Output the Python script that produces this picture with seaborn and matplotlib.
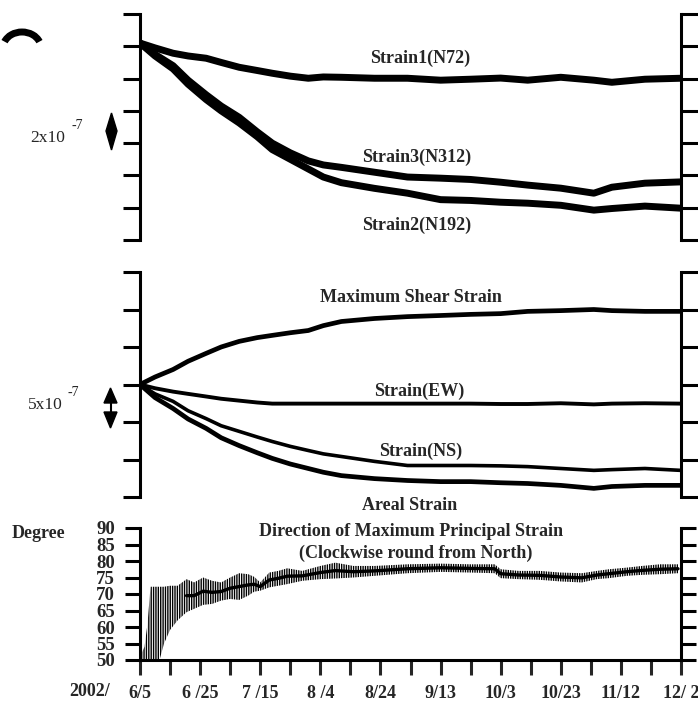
import numpy as np
import pandas as pd
import matplotlib
matplotlib.use('Agg')
import matplotlib.pyplot as plt
import seaborn as sns
from matplotlib.patches import Polygon, Arc

# days counted from 2002/6/5
days = [0, 5, 11, 16, 22, 27, 33, 39, 44, 50, 56, 61, 67, 78, 89, 100, 110, 120, 129, 140, 151, 157, 168, 180]

# top panel (units of 1e-7, one tick = 2e-7)
strain1 = [0.2, -0.1, -0.43, -0.6, -0.74, -1.0, -1.3, -1.5, -1.67, -1.85, -1.98, -1.9, -1.92, -1.98,
           -1.98, -2.1, -2.04, -1.97, -2.1, -1.92, -2.1, -2.23, -2.04, -1.98]
strain3 = [0.2, -0.5, -1.2, -2.1, -3.0, -3.7, -4.4, -5.3, -6.0, -6.6, -7.1, -7.35, -7.5, -7.8,
           -8.1, -8.17, -8.25, -8.42, -8.6, -8.79, -9.1, -8.73, -8.48, -8.4]
strain2 = [0.2, -0.6, -1.4, -2.35, -3.3, -4.0, -4.75, -5.6, -6.4, -7.0, -7.6, -8.1, -8.45, -8.8,
           -9.1, -9.5, -9.55, -9.66, -9.72, -9.85, -10.15, -10.05, -9.9, -10.03]

# middle panel (one tick = 5e-7)
max_shear = [0, 0.2, 0.4, 0.62, 0.83, 1.0, 1.15, 1.25, 1.31, 1.38, 1.44, 1.57, 1.68, 1.76,
             1.81, 1.84, 1.87, 1.89, 1.95, 1.97, 2.0, 1.97, 1.95, 1.95]
strain_ew = [0, -0.1, -0.19, -0.25, -0.32, -0.38, -0.43, -0.48, -0.51, -0.51, -0.51, -0.51, -0.51, -0.51,
             -0.51, -0.51, -0.51, -0.52, -0.52, -0.5, -0.53, -0.51, -0.5, -0.51]
strain_ns = [0, -0.25, -0.45, -0.7, -0.91, -1.1, -1.25, -1.4, -1.52, -1.65, -1.76, -1.85, -1.92, -2.05,
             -2.16, -2.16, -2.16, -2.17, -2.19, -2.24, -2.29, -2.27, -2.24, -2.29]
areal = [0, -0.35, -0.64, -0.92, -1.17, -1.42, -1.63, -1.82, -1.97, -2.12, -2.24, -2.34, -2.43, -2.51,
         -2.56, -2.59, -2.59, -2.62, -2.64, -2.69, -2.77, -2.72, -2.69, -2.69]

# bottom panel: direction, low/high of the daily swing
deg_days = [0.5, 1.5, 2.5, 3.5, 5, 6.5, 8, 10, 12.5, 15.5, 18, 21, 24, 27, 30, 33, 36, 38, 40, 43,
            46, 49, 54, 60, 65, 71, 78, 89, 100, 110, 118, 120, 126, 133, 140, 147, 152, 156, 162, 167, 173, 179]
deg_lo = [50, 50, 50, 50, 50, 50, 55, 59.1, 62, 64.5, 65.5, 66.7, 67, 68, 68.5, 68.2, 69.5, 70.7, 71, 72,
          72.5, 73, 74, 74.5, 74.7, 75, 75.5, 76.3, 76.7, 76.5, 76.3, 74.8, 74.5, 74.3, 73.8, 73.5, 74.5,
          74.8, 75.5, 75.8, 76, 76.3]
deg_hi = [52, 54, 61, 72.2, 72.2, 72.2, 72.2, 72.5, 72.5, 74.5, 73.5, 75, 74, 73.5, 75, 76.3, 76, 75.2, 73.5, 76.5,
          77, 77.8, 77, 78.5, 79.5, 78.5, 78.5, 79, 79.2, 79, 79, 77.5, 77, 77, 76.5, 76.3, 77,
          77.5, 78, 78.5, 79, 79]

date_labels = ['6/5', '6 /25', '7 /15', '8 /4', '8/24', '9/13', '10/3', '10/23', '11/12', '12/ 2']

sns.set_style('white')
plt.rcParams['font.family'] = ['Liberation Serif', 'DejaVu Serif']
plt.rcParams['hatch.linewidth'] = 1.0

W, H = 698, 705
fig = plt.figure(figsize=(W / 100, H / 100), dpi=100)

def px_axes(x0, y0, x1, y1):
    return fig.add_axes([x0 / W, 1 - y1 / H, (x1 - x0) / W, (y1 - y0) / H])

ax_top = px_axes(140, 14, 681, 240)
ax_mid = px_axes(140, 272, 681, 497)
ax_deg = px_axes(140, 528, 681, 660)

def style_panel(ax, show_bottom=False):
    sns.despine(ax=ax, top=True, bottom=not show_bottom, left=False, right=False)
    for s in ['left', 'right', 'bottom']:
        ax.spines[s].set_linewidth(2.2)
        ax.spines[s].set_color('black')
    ax.tick_params(axis='y', which='both', left=True, right=True, direction='out',
                   length=12, width=2.2, color='black', labelleft=False, labelright=False)
    ax.set_xlim(0, 180)
    ax.set_xlabel('')
    ax.set_ylabel('')
    if not show_bottom:
        ax.set_xticks([])

# top panel
for vals in [strain1, strain3, strain2]:
    sns.lineplot(x=days, y=vals, ax=ax_top, color='black', lw=5, solid_capstyle='butt')
ax_top.set_ylim(-12, 2)
ax_top.set_yticks(range(-12, 3, 2))
style_panel(ax_top)

# middle panel
for vals, lw in [(max_shear, 3.4), (strain_ew, 2.8), (strain_ns, 2.6), (areal, 3.4)]:
    sns.lineplot(x=days, y=vals, ax=ax_mid, color='black', lw=lw, solid_capstyle='butt')
ax_mid.set_ylim(-3, 3)
ax_mid.set_yticks(range(-3, 4))
style_panel(ax_mid)

# bottom panel
deg = pd.DataFrame({'day': deg_days, 'lo': deg_lo, 'hi': deg_hi})
deg['mid'] = (deg['lo'] + deg['hi']) / 2
ax_deg.fill_between(deg['day'], deg['lo'], deg['hi'], facecolor='none', edgecolor='black',
                    hatch='|||||||', linewidth=0)
late = deg[deg['day'] >= 14]
sns.lineplot(data=late, x='day', y='mid', ax=ax_deg, color='black', lw=2.4)
ax_deg.set_ylim(50, 90)
ax_deg.set_yticks(range(50, 91, 5))
style_panel(ax_deg, show_bottom=True)
ax_deg.tick_params(axis='y', labelleft=True, length=11, pad=7, labelsize=13.5)
ax_deg.set_xticks(range(0, 181, 20))
ax_deg.set_xticks(range(10, 180, 20), minor=True)
ax_deg.set_xticklabels(date_labels)
ax_deg.tick_params(axis='x', which='both', bottom=True, direction='out', length=11, width=2.2,
                   pad=7, labelsize=13)
for lab in ax_deg.get_xticklabels() + ax_deg.get_yticklabels():
    lab.set_fontweight('bold')

# overlay in pixel coordinates for the annotations
ov = fig.add_axes([0, 0, 1, 1])
ov.set_xlim(0, W)
ov.set_ylim(H, 0)
ov.axis('off')
ov.patch.set_alpha(0)

fb = dict(fontsize=13, fontweight='bold', ha='center', va='center')
ov.text(420, 58, 'Strain1(N72)', **fb)
ov.text(417, 157, 'Strain3(N312)', **fb)
ov.text(417, 225, 'Strain2(N192)', **fb)
ov.text(411, 298, 'Maximum Shear Strain', **fb)
ov.text(419, 391, 'Strain(EW)', **fb)
ov.text(421, 451, 'Strain(NS)', **fb)
ov.text(410, 505, 'Areal Strain', **fb)
ov.text(411, 532, 'Direction of Maximum Principal Strain', **fb)
ov.text(416, 553, '(Clockwise round from North)', **fb)
ov.text(38, 533, 'Degree', **fb)
ov.text(90, 692, '2002/', **fb)

ov.text(30, 142, '2x10', fontsize=12.5, ha='left', va='baseline')
ov.text(71, 129, '-7', fontsize=10, ha='left', va='baseline')
ov.text(28, 409, '5x10', fontsize=12.5, ha='left', va='baseline')
ov.text(67, 396, '-7', fontsize=10, ha='left', va='baseline')

# scale markers
ov.add_patch(Polygon([(106, 131), (111.5, 113), (117, 131), (111.5, 150)], closed=True, color='black'))
ov.add_patch(Polygon([(104, 403), (110.5, 388), (117, 403)], closed=True, color='black'))
ov.add_patch(Polygon([(104, 412), (110.5, 428), (117, 412)], closed=True, color='black'))
ov.plot([110.5, 110.5], [402, 413], color='black', lw=1.5)
ov.add_patch(Arc((22, 48), 38, 32, theta1=200, theta2=340, lw=5, color='black'))

fig.savefig('out.png', dpi=100)
